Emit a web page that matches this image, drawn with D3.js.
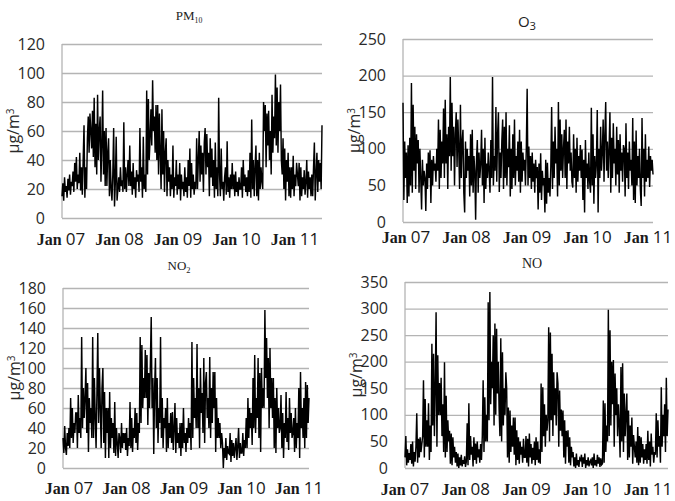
<!DOCTYPE html>
<html>
<head>
<meta charset="UTF-8">
<title>Air quality time series</title>
<script src="https://d3js.org/d3.v7.min.js"></script>
<style>
 body { margin: 0; background: #fff; }
 svg { display: block; }
</style>
</head>
<body>
<svg width="675" height="501"></svg>
<script>
// tick labels
var yearLabels = ["07", "08", "09", "10", "11"];
var pm10Ticks = [0, 20, 40, 60, 80, 100, 120];
var o3Ticks = [0, 50, 100, 150, 200, 250];
var no2Ticks = [0, 20, 40, 60, 80, 100, 120, 140, 160, 180];
var noTicks = [0, 50, 100, 150, 200, 250, 300, 350];

// series (Jan 07 -> early 11), µg/m3
var pm10 = [15,24,12,28,18,22,14,27,19,30,16,25, 22,32,18,38,25,42,20,30,24,45,19,35,
  16,40,64,14,35,20, 55,70,45,72,60,48,74, 42,83,35,65,30,85,40,60, 70,25,50,88,30,60,22,
  62,22,45,55,15,40,20, 12,30,62,8,25,56,12, 20,28,18,35,22,26,18, 66,20,35,18,30,40,22,
  50,22,32,16,38,20,28,14,33,25,30,18, 62,25,35,14,56,20,30,18, 88,30,82,40,
  55,75,50,95,60,70,45,78, 40,78,30,72,45,20,75, 30,60,18,45,55,15,40,25,
  35,15,30,20,50,14,28,22,40,16,30,20, 38,12,30,20,25,15,35,18,28,14,40,22,
  48,14,38,20,30,16,25,20, 55,20,40,60,25,50,30,45,18,52, 62,30,58,35,45,15,55,28,48,22,
  40,14,52,20,35,15, 83, 30,15,48,20,25,12,28, 35,16,53,18,28,14,30,20,
  38,20,30,15,32,18,25,15,28,20, 20,35,14,40,22,30,18,28,15,33, 18,45,14,68,20,40,15,35,
  50,15,40,12,45,20,35,25, 20,80,60,78,35,72,50, 74,40,60,30,85,45,70,55,
  99,50,90,45,80,60,92,40, 30,55,20,48,12,40,25,45,15,35, 14,35,20,43,15,30,22,38,
  30,22,38,12,35,15,28,20,33,16, 25,40,14,32,20,28,15,30, 15,35,52,12,30,45,18,40,25,38,20,64];

var o3 = [163,30,110,60,95, 26,105,35,115,50,190, 40,160,70,130,45,120,80,
  112,40,100,60,17,85,50,70, 60,15,80,45, 95,60,98,26,85,50,90,70,80,55,100,
  70,140,45,126,60,110,80, 155,60,167,80,120,45,130,90, 198,70,163,90,130,50,120,
  150,75,140,100,45,160,60,110, 126,40,13,110,60,100,70,90, 35,120,50,126,40,90,70,
  3,85,112,40,95,60,80, 126,50,100,26,115,45,80,60,95,70, 40,112,60,198,50,90,70,
  157,55,120,150,41,95,60,110, 140,45,130,60,150,50,100,75,
  132,35,100,45,120,60,140,50,90,70,110,55, 126,40,110,55,95,70,85,50,100,182,
  50,103,60,90,45,95,55,80,40,85,60,75, 17,80,40,94,30,70,50,60, 13,85,25,81,40,60,35,75,
  157,45,110,60,130,80,100, 35,164,50,140,70,120,60,100, 126,60,140,45,110,80,130,70,95,55,
  47,120,60,100,40,115,55,90,70,105,60, 99,30,85,13,112,60,80,45,95,55,
  40,156,50,120,25,90,60,80, 153,13,100,60,130,70,95, 140,55,120,164,70,110,60,100,
  150,40,115,60,135,80,100, 50,130,65,112,40,120,70,95,55,105, 100,35,135,60,95,45,110,70,85,50,
  142,30,110,26,125,50,90,60,100,45, 22,142,60,100,35,120,55,85, 60,103,48,90,70,85,65];

var no2 = [30,15,42,20,13,35,22,40, 20,70,30,60,25,45,35,55, 55,20,73,35,50,30, 131,40,80,50,70,
  100,35,85,16,70,45,60,30, 131,30,90,50,20,75, 135,45,100,60,20,80, 100,25,76,10,60,35,
  60,10,76,20,50,30,45, 15,66,12,40,25,10,35, 30,15,45,20,35,25, 35,18,40,12,30,22,
  66,20,50,16,40,30, 60,25,55,18,45,35, 131,45,123,60,90,70, 118,70,113,43,95,60,
  105,151,60,90,14,80, 110,40,90,25,60,45, 131,30,70,20,50,40, 60,16,70,20,45,30,55,25,
  56,18,40,65,15,50,25,35,20,45, 12,45,20,60,25,35, 16,40,25,50,30,45,
  18,126,30,90,50,70,40, 124,40,80,20,100,55,75, 35,110,25,85,96,50,70, 40,111,30,80,45,96,60,
  96,16,70,30,50, 30,45,20,35,25, 0,20,10,30,8,22,15, 14,35,6,28,12,25,10,20,
  30,8,22,40,10,25,15, 15,35,12,28,20, 50,20,70,30,60,40,55, 23,90,40,113,35,70,50,
  110,30,95,16,100,60,80, 60,158,90,130,70,110, 40,120,60,90,50, 90,20,70,15,80,40,60,35,
  40,73,20,55,10,45,30, 76,26,50,18,70,35,55,30, 35,50,16,60,20,45,30, 80,10,96,40,60,30,70,
  20,86,30,83,45,70];

var no = [20,60,5,35,10,28,15, 45,8,50,3,30,12,40, 103,10,55,20,58,30,45, 60,165,20,130,40,90,
  40,122,15,80,30, 234,80,215,60,150, 293,40,212,100,160, 100,170,60,120,30,
  199,20,136,30,90,50,70, 8,65,5,58,20,40,10,30, 3,27,0,20,5,25,3,15,8,22,2,12,
  84,5,122,15,60,25,40, 3,58,15,46,8,50,20,35,10,45,15, 60,165,30,133,50,100,
  50,312,90,331,120,200,150, 250,80,272,100,262,140,200,110, 60,244,50,218,80,150,100,180,
  150,20,114,10,108,30,80,40,95,25, 95,5,71,15,58,8,50,25,40,10,55,20,
  20,60,10,55,3,65,20,45,8,38,15,50, 5,58,15,50,10,35, 8,159,30,152,60,120,40,100,70,90,
  265,50,255,90,215,60,180,100,150,80, 180,159,40,146,70,110,60, 108,20,90,8,70,40,
  71,10,58,5,40,20,30, 3,20,0,27,5,15,2,18, 15,25,2,20,8,27,0,15,5,20,3,12,
  15,5,20,0,27,5,15,3,25,8,20,2,18,6, 8,127,10,122,30,80,50, 298,60,259,80,200,120,
  203,40,178,100,150,60,120,80, 20,190,50,197,30,140,60,100, 140,15,108,20,80,40,
  95,8,62,40,20,50, 10,77,5,60,10,58,20,45,8,35,15, 45,8,70,15,50,3,65,25,40,10,30,
  25,103,20,90,40,60, 10,152,40,100,60, 120,30,170,60,110];

var svg = d3.select("svg");

function drawPanel(p) {
  var g = svg.append("g");

  var x = d3.scaleLinear().domain([0, p.values.length - 1]).range([p.left, p.right]);
  var y = d3.scaleLinear().domain([0, p.ticks[p.ticks.length - 1]]).range([p.bottom, p.top]);

  // horizontal grid + tick labels
  g.append("g")
    .attr("transform", "translate(" + p.left + ",0)")
    .call(d3.axisLeft(y).tickValues(p.ticks).tickSize(-(p.right - p.left)).tickPadding(17))
    .call(function(a) { a.select(".domain").remove(); })
    .call(function(a) {
      a.selectAll("line").attr("stroke", "#b4b4b4").attr("stroke-width", 1.3);
      a.selectAll("text")
        .attr("font-family", "'Open Sans', sans-serif")
        .attr("font-size", 16)
        .attr("fill", "#2a2a2a");
    });

  // left axis line
  g.append("line")
    .attr("x1", p.left).attr("x2", p.left)
    .attr("y1", p.top).attr("y2", p.bottom)
    .attr("stroke", "#b4b4b4").attr("stroke-width", 1.3);

  // the series
  g.append("path")
    .datum(p.values)
    .attr("fill", "none")
    .attr("stroke", "#000")
    .attr("stroke-width", 1.45)
    .attr("d", d3.line().x(function(d, i) { return x(i); }).y(function(d) { return y(d); }));

  // year labels: "Jan" in bold serif, year in sans
  var xs = d3.scalePoint().domain(yearLabels).range([p.firstLabel, p.lastLabel]);
  var lab = g.selectAll(".yr").data(yearLabels).enter().append("text")
    .attr("class", "yr")
    .attr("x", function(d) { return xs(d); })
    .attr("y", p.labelY)
    .attr("text-anchor", "middle")
    .attr("fill", "#1a1a1a");
  lab.append("tspan")
    .attr("font-family", "'Liberation Serif', 'Times New Roman', serif")
    .attr("font-weight", "bold")
    .attr("font-size", 16)
    .text("Jan ");
  lab.append("tspan")
    .attr("font-family", "'Open Sans', sans-serif")
    .attr("font-size", 17)
    .text(function(d) { return d; });

  // y title
  var yt = g.append("text")
    .attr("transform", "translate(" + (p.left - 49) + "," + ((p.top + p.bottom) / 2) + ") rotate(-90)")
    .attr("text-anchor", "middle")
    .attr("dy", "0.35em")
    .attr("font-family", "'Open Sans', sans-serif")
    .attr("font-size", 16)
    .attr("fill", "#2a2a2a");
  yt.append("tspan").text("\u00b5g/m");
  yt.append("tspan").attr("font-size", 10).attr("dy", "-0.5em").text("3");

  // panel title with subscript
  var t = g.append("text")
    .attr("x", p.titleX).attr("y", p.titleY)
    .attr("text-anchor", "middle")
    .attr("font-family", p.titleFont)
    .attr("font-size", p.titleSize)
    .attr("fill", "#222");
  t.append("tspan").text(p.title);
  t.append("tspan")
    .attr("font-size", p.titleSize * p.subScale)
    .attr("dy", p.titleSize * 0.22)
    .text(p.sub);
}

var serif = "'Liberation Serif', 'Times New Roman', serif";
var sans = "'Open Sans', sans-serif";

drawPanel({values: pm10, ticks: pm10Ticks, left: 62, right: 322, top: 44, bottom: 218,
  firstLabel: 61, lastLabel: 295, labelY: 245,
  title: "PM", sub: "10", titleX: 189, titleY: 20, titleFont: serif, titleSize: 13, subScale: 0.6});

drawPanel({values: o3, ticks: o3Ticks, left: 403, right: 653, top: 39, bottom: 222,
  firstLabel: 406, lastLabel: 648, labelY: 243,
  title: "O", sub: "3", titleX: 527, titleY: 27, titleFont: sans, titleSize: 15, subScale: 0.75});

drawPanel({values: no2, ticks: no2Ticks, left: 63, right: 309, top: 288, bottom: 468,
  firstLabel: 69, lastLabel: 299, labelY: 494,
  title: "NO", sub: "2", titleX: 179, titleY: 270, titleFont: serif, titleSize: 13, subScale: 0.65});

drawPanel({values: no, ticks: noTicks, left: 405, right: 668, top: 282, bottom: 468,
  firstLabel: 405, lastLabel: 648, labelY: 495,
  title: "NO", sub: "", titleX: 532, titleY: 268, titleFont: serif, titleSize: 14, subScale: 0.65});
</script>
</body>
</html>
